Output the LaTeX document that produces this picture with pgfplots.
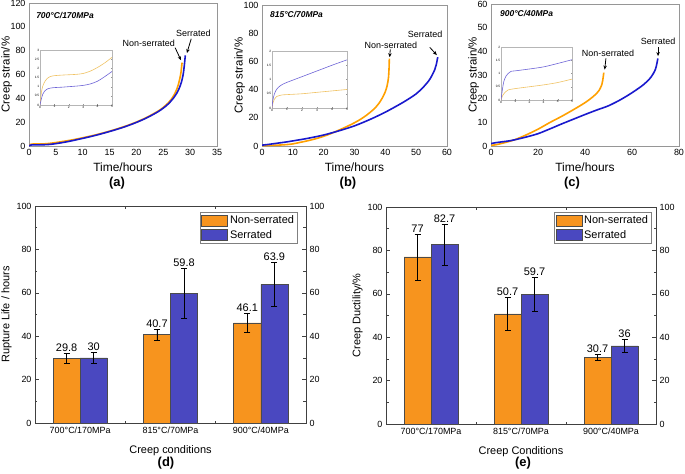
\documentclass[border=0pt]{standalone}
\usepackage{fontspec}
\setmainfont{Liberation Sans}
\usepackage{pgfplots}
\pgfplotsset{compat=1.18}
\usetikzlibrary{arrows.meta}

\definecolor{lineor}{RGB}{255,160,0}
\definecolor{lineblue}{RGB}{25,25,205}
\definecolor{inor}{RGB}{240,195,100}
\definecolor{inblue}{RGB}{110,100,215}
\definecolor{baror}{RGB}{247,148,30}
\definecolor{barblue}{RGB}{74,72,192}
\definecolor{bardraw}{RGB}{75,75,75}
\definecolor{framegray}{RGB}{150,150,150}

\tikzset{
  tag/.style={font=\fontsize{8.5}{9}\selectfont\bfseries\itshape, anchor=west},
  note/.style={font=\fontsize{9}{10}\selectfont},
  arr/.style={-{Stealth[length=4bp,width=3.5bp]}, line width=0.8bp},
  main/.style={smooth, line width=1.6bp},
  thin/.style={smooth, line width=0.6bp},
  paneltag/.style={font=\fontsize{13}{14}\selectfont\bfseries},
}

\pgfplotsset{
  every axis/.append style={/pgf/number format/assume math mode=true},
  strain/.style={
    scale only axis, anchor=north west, clip mode=individual,
    axis line style={framegray}, tick style={draw=none},
    tick label style={font=\fontsize{9}{10}\selectfont},
    xlabel style={font=\fontsize{12}{13}\selectfont},
    ylabel style={font=\fontsize{11.5}{12}\selectfont, inner sep=1bp},
    xlabel={Time/hours}, ylabel={Creep strain/\%},
    ylabel shift=-6bp, ymin=0,
  },
  inset/.style={
    scale only axis, anchor=north west,
    axis background/.style={fill=white},
    axis line style={framegray!70}, tick style={framegray, line width=0.3bp},
    major tick length=1.2bp,
    tick label style={font=\fontsize{3.2}{3.5}\selectfont, inner sep=0.6pt},
    xmin=0, xmax=5, xtick={0,1,...,5}, ymin=0,
  },
  barax/.style={
    scale only axis, anchor=north west, width=271bp, height=217bp,
    xmin=-0.5, xmax=2.5, ymin=0, ymax=100,
    xtick={0,1,2}, xticklabels={700°C/170MPa,815°C/70MPa,900°C/40MPa},
    minor xtick={0.5,1.5}, major x tick style={draw=none},
    ytick={0,20,...,100}, minor ytick={10,30,50,70,90},
    tick align=inside, major tick length=4bp, minor tick length=2.5bp,
    axis line style={black!75, line width=0.8bp},
    tick style={black!75, line width=0.6bp},
    tick label style={font=\fontsize{9}{10}\selectfont},
    label style={font=\fontsize{11}{12}\selectfont},
    xlabel shift=6bp, ylabel shift=-2bp,
    legend image code/.code={\draw[#1, draw=bardraw] (0bp,-5.5bp) rectangle (26bp,5.5bp);},
    legend style={draw=gray, line width=0.8bp, font=\fontsize{11}{12}\selectfont,
      inner sep=1.5pt, row sep=1bp, cells={anchor=west}, anchor=north east},
  },
  barA/.style={ybar, bar width=0.3, bar shift=0pt, fill=baror, draw=bardraw, line width=0.6bp,
    error bars/.cd, y dir=both, y explicit,
    error bar style={black, line width=0.7bp},
    error mark options={black, line width=0.7bp, mark size=3bp, rotate=90}},
  barB/.style={ybar, bar width=0.3, bar shift=0pt, fill=barblue, draw=bardraw, line width=0.6bp,
    error bars/.cd, y dir=both, y explicit,
    error bar style={black, line width=0.7bp},
    error mark options={black, line width=0.7bp, mark size=3bp, rotate=90}},
  vals/.style={draw=none, mark=none, forget plot, nodes near coords, point meta=explicit symbolic,
    nodes near coords style={font=\fontsize{11}{12}\selectfont, anchor=south, inner sep=1.5pt}},
  rightax/.style={
    scale only axis, anchor=north west, width=271bp, height=217bp,
    hide x axis, axis y line*=right, xmin=0, xmax=1, ymin=0, ymax=100,
    ytick={0,20,...,100}, y axis line style={draw=none}, ytick style={draw=none},
    tick label style={font=\fontsize{9}{10}\selectfont},
  },
}

\begin{document}
\begin{tikzpicture}
\useasboundingbox (0bp,0bp) rectangle (685bp,-474bp);

% (a) 700C / 170MPa
\begin{axis}[strain, at={(29bp,-3bp)}, width=188bp, height=143bp,
  xmin=0, xmax=35, ymax=120, xtick={0,5,...,35}, ytick={0,20,...,120}]
\addplot[main, lineor] coordinates {(0,0) (0.2,1.2) (0.5,1.6) (1,1.7) (2,1.75) (3,1.85) (4,2.3) (5,2.9) (6,3.6) (7,4.3) (8,5.1) (9,6.0) (10,6.9) (12,8.9) (14,11.2) (16,13.8) (18,16.7) (20,20.1) (22,24.2) (24,29.2) (25,32.4) (26,36.5) (26.5,39.3) (27,42.8) (27.5,47.5) (27.8,51.5) (28.1,57) (28.3,62) (28.5,70)};
\addplot[main, lineblue] coordinates {(0,0) (0.2,0.7) (0.5,0.9) (1,0.95) (2,1.0) (3,1.1) (4,1.4) (5,2.0) (6,2.7) (7,3.5) (8,4.4) (9,5.4) (10,6.4) (12,8.5) (14,10.9) (16,13.5) (18,16.4) (20,19.8) (22,23.8) (24,28.7) (25,31.8) (26,35.6) (27,40.8) (27.5,44.2) (28,48.8) (28.4,54) (28.7,60) (28.9,67) (29.1,76)};
\node[tag] at (rel axis cs:0.02,0.91) {700°C/170MPa};
\node[note] at (axis cs:30.6,94.5) {Serrated};
\draw[arr] (axis cs:30.2,90) -- (axis cs:29.4,78);
\node[note] at (axis cs:22.3,86.4) {Non-serrated};
\draw[arr] (axis cs:27.2,82.5) -- (axis cs:28.3,72);
\end{axis}
\begin{axis}[inset, at={(40bp,-50bp)}, width=72bp, height=55bp,
  ymax=3, ytick={0,0.5,...,3}]
\addplot[thin, inor] coordinates {(0,0) (0.1,0.7) (0.2,1.05) (0.35,1.3) (0.5,1.45) (0.7,1.55) (1,1.6) (1.5,1.63) (2,1.65) (2.5,1.67) (3,1.72) (3.5,1.85) (4,2.05) (4.5,2.3) (5,2.6)};
\addplot[thin, inblue] coordinates {(0,0) (0.1,0.35) (0.2,0.6) (0.35,0.78) (0.5,0.87) (0.7,0.92) (1,0.95) (1.5,0.97) (2,1.0) (2.5,1.03) (3,1.07) (3.5,1.15) (4,1.3) (4.5,1.55) (5,1.83)};
\end{axis}

% (b) 815C / 70MPa
\begin{axis}[strain, at={(262bp,-5bp)}, width=185bp, height=141bp,
  xmin=0, xmax=60, ymax=100, xtick={0,10,...,60}, ytick={0,20,...,100}]
\addplot[main, lineor] coordinates {(0,0.3) (2,0.4) (5,0.6) (8,1.0) (10,1.5) (12,2.4) (15,3.8) (18,5.5) (20,6.9) (22,8.5) (25,11.3) (28,14.3) (30,16.5) (32,19) (34,22) (36,25.6) (37,27.8) (38,30.5) (39,34) (40,38.5) (40.5,42) (41,48) (41.2,55) (41.3,62)};
\addplot[main, lineblue] coordinates {(0,0.6) (2,1.1) (5,2.0) (8,2.9) (10,3.6) (15,5.5) (20,7.8) (25,10.8) (30,14.3) (35,18.8) (40,24) (45,30) (48,34) (50,37) (52,41) (54,46) (55,49.5) (56,54) (56.5,57.5) (57,63)};
\node[tag] at (rel axis cs:0.025,0.93) {815°C/70MPa};
\node[note] at (axis cs:52.9,79.4) {Serrated};
\draw[arr] (axis cs:54.4,70) -- (axis cs:56.7,64.5);
\node[note] at (axis cs:41.8,71.6) {Non-serrated};
\draw[arr] (axis cs:41.6,68.5) -- (axis cs:41.4,63);
\end{axis}
\begin{axis}[inset, at={(272bp,-51bp)}, width=75bp, height=57bp,
  ymax=2, ytick={0,0.5,...,2}]
\addplot[thin, inor] coordinates {(0,0) (0.05,0.15) (0.15,0.3) (0.3,0.4) (0.5,0.44) (0.7,0.46) (1,0.47) (2,0.5) (3,0.55) (4,0.6) (5,0.65)};
\addplot[thin, inblue] coordinates {(0,0) (0.05,0.25) (0.15,0.48) (0.3,0.65) (0.5,0.76) (0.7,0.83) (1,0.9) (2,1.1) (3,1.3) (4,1.5) (5,1.69)};
\end{axis}

% (c) 900C / 40MPa
\begin{axis}[strain, at={(491bp,-4bp)}, width=188bp, height=142bp,
  xmin=0, xmax=80, ymax=60, xtick={0,20,...,80}, ytick={0,10,...,60}]
\addplot[main, lineor] coordinates {(0,0.3) (2,0.5) (5,1.2) (8,2.0) (10,2.6) (15,4.7) (20,7.1) (25,9.9) (30,12.5) (35,15.3) (40,18.3) (43,20.5) (45,22.3) (46,23.5) (47,25.5) (47.5,27.5) (48,31)};
\addplot[main, lineblue] coordinates {(0,1.0) (2,1.4) (5,1.8) (8,2.2) (10,2.6) (15,3.8) (20,5.2) (25,7.2) (30,9.3) (35,11.3) (40,13.3) (45,15.2) (50,17) (55,19.5) (60,22.5) (65,26) (68,29) (70,32.5) (71,37)};
\node[tag] at (rel axis cs:0.03,0.93) {900°C/40MPa};
\node[note] at (axis cs:71.1,44.4) {Serrated};
\draw[arr] (axis cs:71.1,41.8) -- (axis cs:71.1,38);
\node[note] at (axis cs:49.8,39.3) {Non-serrated};
\draw[arr] (axis cs:48.9,37) -- (axis cs:48.4,32.3);
\end{axis}
\begin{axis}[inset, at={(501bp,-47bp)}, width=71bp, height=53bp,
  ymax=2, ytick={0,0.5,...,2}]
\addplot[thin, inor] coordinates {(0,0) (0.1,0.15) (0.3,0.3) (0.5,0.38) (1,0.43) (2,0.5) (3,0.57) (4,0.66) (5,0.79)};
\addplot[thin, inblue] coordinates {(0,0) (0.1,0.4) (0.2,0.7) (0.35,0.9) (0.5,1.0) (0.7,1.08) (1,1.1) (2,1.17) (3,1.25) (4,1.38) (5,1.52)};
\end{axis}

% (d) rupture life
\begin{axis}[barax, at={(35bp,-206bp)}, ylabel={Rupture Life / hours}, xlabel={Creep conditions},
  legend style={at={(0.970,0.972)}}]
\addplot[barA] coordinates {(-0.15,29.8) +- (0,2.4) (0.85,40.7) +- (0,2.6) (1.85,46.1) +- (0,4.4)};
\addlegendentry{Non-serrated}
\addplot[barB] coordinates {(0.15,30) +- (0,2.6) (1.15,59.8) +- (0,11.5) (2.15,63.9) +- (0,10.2)};
\addlegendentry{Serrated}
\addplot[vals] coordinates {(-0.15,32.2) [29.8] (0.85,43.3) [40.7] (1.85,50.5) [46.1]};
\addplot[vals] coordinates {(0.15,32.6) [30] (1.15,71.3) [59.8] (2.15,74.1) [63.9]};
\end{axis}
\begin{axis}[rightax, at={(35bp,-206bp)}]
\end{axis}

% (e) creep ductility
\begin{axis}[barax, at={(386bp,-207bp)}, width=270bp, ylabel={Creep Ductility/\%}, xlabel={Creep Conditions},
  legend style={at={(0.985,0.977)}}]
\addplot[barA] coordinates {(-0.15,77) +- (0,10.6) (0.85,50.7) +- (0,7.6) (1.85,30.7) +- (0,1.3)};
\addlegendentry{Non-serrated}
\addplot[barB] coordinates {(0.15,82.7) +- (0,9.5) (1.15,59.7) +- (0,7.7) (2.15,36) +- (0,3)};
\addlegendentry{Serrated}
\addplot[vals] coordinates {(-0.15,87.6) [77] (0.85,58.3) [50.7] (1.85,32) [30.7]};
\addplot[vals] coordinates {(0.15,92.2) [82.7] (1.15,67.4) [59.7] (2.15,39) [36]};
\end{axis}
\begin{axis}[rightax, at={(386bp,-207bp)}, width=270bp]
\end{axis}

\node[paneltag] at (117bp,-183bp) {(a)};
\node[paneltag] at (348bp,-183bp) {(b)};
\node[paneltag] at (572bp,-183bp) {(c)};
\node[paneltag] at (166bp,-463bp) {(d)};
\node[paneltag] at (523bp,-463bp) {(e)};
\end{tikzpicture}
\end{document}
